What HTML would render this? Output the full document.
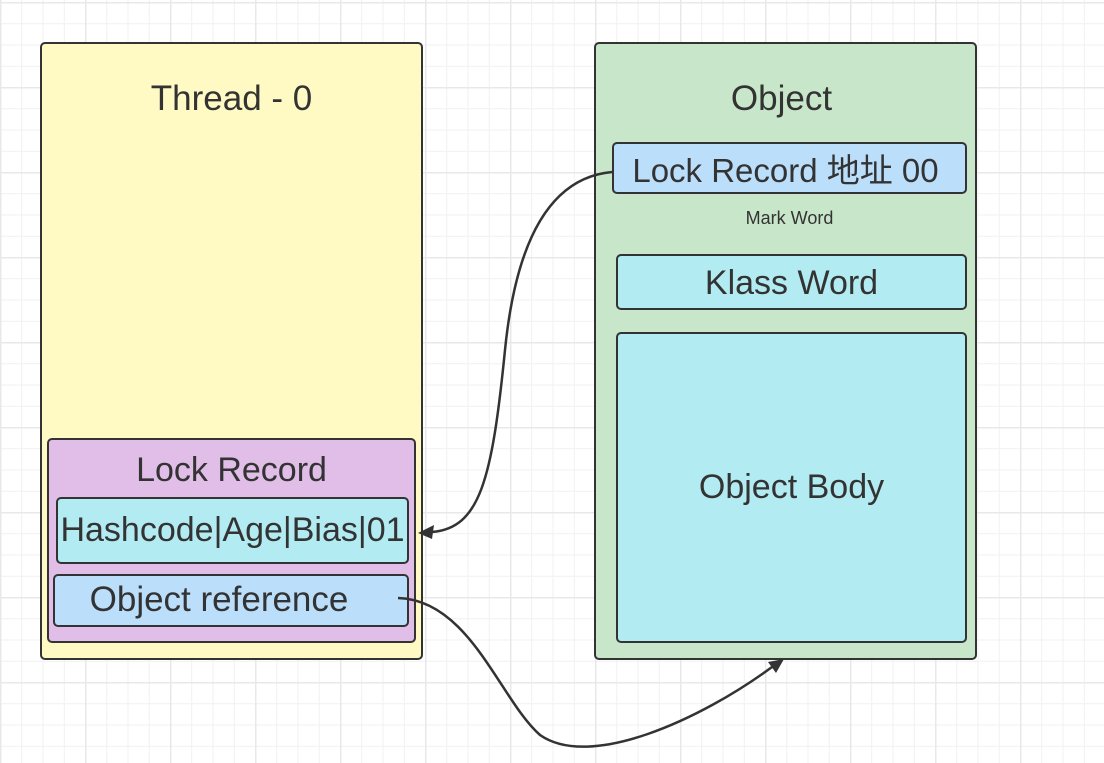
<!DOCTYPE html>
<html><head><meta charset="utf-8"><style>
body{margin:0;width:1104px;height:763px;overflow:hidden;background:#fff;font-family:"Liberation Sans","Noto Sans CJK SC",sans-serif;}
.g{position:absolute;left:0;top:0;width:1104px;height:763px;
background-image:linear-gradient(#e8e8e8 1.5px,transparent 1.5px),linear-gradient(90deg,#e8e8e8 1.5px,transparent 1.5px),linear-gradient(#f1f1f1 1px,transparent 1px),linear-gradient(90deg,#f1f1f1 1px,transparent 1px);
background-size:85px 85px,85px 85px,21.25px 21.25px,21.25px 21.25px;background-position:0 2px,0 0,0 2px,0 0;}
.b{position:absolute;box-sizing:border-box;border:2px solid #333;border-radius:5px;color:#333;text-align:center;white-space:nowrap;}
.t{position:absolute;left:0;right:0;text-align:center;color:#333;}
</style></head><body>
<div class="g"></div>
<div class="b" style="left:40px;top:42px;width:383px;height:618px;background:#fff9c4"><div class="t" style="top:35px;font-size:35px">Thread - 0</div></div>
<div class="b" style="left:47px;top:438px;width:369px;height:205px;background:#e1bee7"><div class="t" style="top:11px;font-size:34px">Lock Record</div></div>
<div class="b" style="left:56px;top:497px;width:353px;height:67px;background:#b2ebf2;font-size:34px;line-height:63px">Hashcode|Age|Bias|01</div>
<div class="b" style="left:53px;top:574px;width:356px;height:53px;background:#bbdefb;font-size:35px;line-height:47px;text-indent:-24px">Object reference</div>
<div class="b" style="left:594px;top:42px;width:383px;height:618px;background:#c8e6c9"><div class="t" style="top:35px;left:-8px;font-size:35px">Object</div>
<div class="t" style="top:164px;left:8px;font-size:18px">Mark Word</div></div>
<div class="b" style="left:612px;top:142px;width:355px;height:52px;background:#bbdefb;font-size:33px;line-height:54px;text-indent:-8px">Lock Record 地址 00</div>
<div class="b" style="left:616px;top:254px;width:351px;height:56px;background:#b2ebf2;font-size:34px;line-height:54px">Klass Word</div>
<div class="b" style="left:616px;top:332px;width:351px;height:311px;background:#b2ebf2;font-size:34px;line-height:307px">Object Body</div>
<svg width="1104" height="763" style="position:absolute;left:0;top:0">
<path d="M612,172 C545,178 515,250 505,350 C492,480 480,528 432,532" fill="none" stroke="#333" stroke-width="2.5"/>
<polygon points="418,533 434,525 432,539" fill="#333"/>
<path d="M398,598 C470,600 500,700 540,735 C590,770 700,720 772,667" fill="none" stroke="#333" stroke-width="2.5"/>
<polygon points="784,659 776,673 768,662" fill="#333"/>
</svg>
</body></html>
